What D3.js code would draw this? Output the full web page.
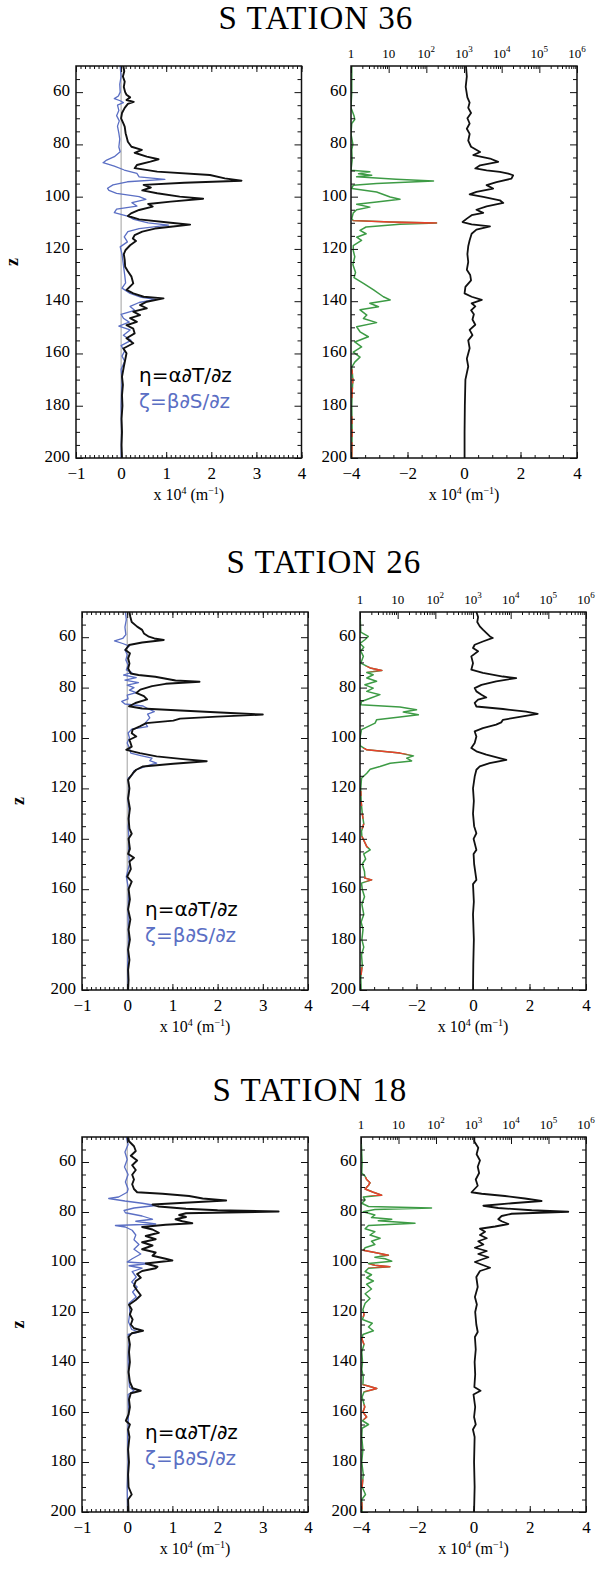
<!DOCTYPE html>
<html>
<head>
<meta charset="utf-8">
<script src="https://cdn.jsdelivr.net/npm/d3@7"></script>
<style>
  body { margin: 0; background: #fff; }
  svg { display: block; }
</style>
</head>
<body>
<div id="chart"></div>
<script>
const width = 598;
const height = 1575;

// depth range shared by every panel
const zDomain = [50, 200];

// ---- station 36 : [z, value] ----
const s36Eta = [[50,0.05],[52,0.07],[54,0.04],[56,0.08],[58,0.06],[60,0.09],[61,0.12],[62,0.2],[63,0.12],[63.7,0.28],[64.5,0.15],[66,0.08],[68,0.02],[70,0.0],[72,0.05],[73.2,0.08],[75.7,0.1],[77,0.12],[79,0.15],[80.9,0.23],[82.1,0.46],[83.2,0.3],[84.7,0.57],[85.7,0.83],[86.6,0.65],[87.9,0.35],[89.1,0.3],[90.4,0.8],[91.7,1.97],[93,2.3],[93.9,2.67],[94.7,1.4],[95.5,0.5],[96.5,0.66],[97.6,0.47],[98.7,0.8],[100,1.3],[100.8,1.82],[101.9,1.1],[102.8,0.6],[103.8,0.7],[105.1,0.4],[106.4,0.22],[107.4,0.15],[108.7,0.4],[110,1.1],[110.7,1.53],[111.5,1.1],[112.2,0.75],[113.4,0.47],[114.7,0.3],[116,0.26],[117,0.33],[118.6,0.2],[120.4,0.1],[122,0.06],[124.2,0.08],[126.8,0.09],[128.5,0.15],[130.6,0.23],[133.2,0.27],[135.7,0.12],[137,0.27],[138.3,0.5],[138.9,0.94],[140.2,0.57],[141.5,0.42],[142.7,0.57],[144,0.27],[145.3,0.42],[146.5,0.2],[147.9,0.35],[149.2,0.12],[150.5,0.27],[152.3,0.3],[154.2,0.12],[156.1,0.27],[158.1,0.05],[159.9,0.12],[162.5,0.09],[165.1,0.06],[168.9,0.02],[172,0.04],[176,0.02],[180,0.03],[185,0.01],[190,0.02],[195,0.01],[200,0.02]];
const s36Zeta = [[50,-0.02],[54,0.0],[57,-0.03],[60,-0.02],[61.5,-0.06],[62.5,-0.15],[63.3,-0.02],[64,0.05],[65,-0.08],[67,-0.05],[69,-0.1],[71,-0.04],[73,-0.08],[75.7,-0.05],[78,-0.03],[81,-0.05],[82.8,-0.02],[84.7,-0.15],[86,-0.32],[87,-0.4],[88.3,-0.15],[89.8,0.07],[91.1,0.35],[92.4,0.4],[93.4,0.97],[94.3,0.14],[95.5,-0.18],[96.8,-0.3],[97.6,-0.27],[98.7,-0.1],[100,0.4],[101,0.55],[102.3,0.24],[103.6,0.35],[104.8,-0.1],[106.1,-0.15],[107.4,0.14],[108.7,0.28],[110,0.6],[110.9,1.05],[112.2,0.4],[113.4,0.15],[115.4,0.07],[117.3,0.14],[119.2,-0.02],[122,0.02],[126,0.05],[130,0.08],[133,0.1],[135,0.02],[137,0.2],[138.5,0.45],[139.3,0.77],[140.5,0.4],[142,0.2],[143.5,0.3],[145,0.0],[146.5,0.05],[148,0.18],[149.5,-0.05],[151,0.2],[153,0.05],[155,0.22],[157,0.0],[159,0.08],[161,0.02],[163,0.08],[166,0.0],[170,0.02],[180,0.0],[190,0.01],[200,0.0]];
const s36Sum = [[50,0.07],[54,0.1],[58,0.06],[62,0.12],[64,0.2],[66,0.15],[68,0.25],[70,0.12],[72,0.2],[74,0.1],[76,0.2],[78.6,0.15],[80.9,0.25],[82.9,0.57],[84.1,0.33],[85.4,0.92],[86.7,1.21],[88,0.57],[89.2,0.4],[89.9,0.8],[90.5,1.27],[91.2,1.57],[91.8,1.74],[93.1,1.68],[94.4,1.15],[95.6,0.8],[96.9,1.03],[98.2,0.44],[99.1,0.2],[100.1,0.68],[101.4,1.27],[102.4,1.39],[103.7,0.8],[105,0.44],[106.2,0.68],[107.1,0.27],[108.4,0.1],[109.7,-0.05],[110.6,0.27],[111.4,0.92],[112.6,0.44],[114.2,0.27],[116.7,0.2],[119,0.15],[122,0.12],[125,0.15],[128,0.1],[130,0.22],[132,0.25],[134.5,0.05],[137,0.02],[138.3,0.27],[139.5,0.63],[140.8,0.27],[142,0.4],[143.5,0.25],[145,0.35],[147,0.3],[149,0.4],[151,0.2],[153,0.3],[155,0.15],[158,0.2],[162,0.1],[165,0.15],[170,0.05],[180,0.03],[190,0.02],[200,0.02]];
// log10 of the ratio read on the top axis
const s36LogR = [[50,0.02],[60,0.02],[66,0.0],[69,0.08],[70.5,0.1],[72,0.02],[76,0.0],[80,0.05],[82,0.02],[86,0.03],[89.9,0.0],[90.5,0.5],[91.2,0.2],[91.8,0.55],[92.4,0.15],[93.3,1.2],[94,2.19],[95,0.68],[95.6,0.06],[96.9,0.02],[98.2,0.68],[100.1,1.04],[101,1.3],[102,0.68],[102.9,0.15],[104,0.5],[105,0.15],[106.2,0.06],[108.4,0.02],[109.1,0.06],[109.7,1.04],[110.1,2.27],[110.6,1.3],[111.6,0.4],[112.9,0.24],[114.2,0.4],[115.5,0.15],[116.7,0.28],[118.7,0.06],[120.6,0.06],[123,0.1],[126,0.05],[129,0.12],[131,0.08],[133.2,0.33],[135.7,0.6],[138.3,0.86],[139.5,1.04],[140.8,0.5],[142.1,0.73],[143.3,0.24],[145.3,0.42],[146.6,0.33],[148.2,0.68],[149.8,0.15],[151.7,0.24],[153.6,0.46],[155.6,0.1],[157.5,0.28],[159.5,0.06],[161.4,0.24],[163.3,0.1],[165.2,0.02],[170,0.05],[175,0.03],[180,0.02],[190,0.03],[200,0.02]];
const s36Red = [[109.0,110.4],[166,168],[169.5,171.5],[173,177],[184,187],[189,192],[194,200]];

// ---- station 26 ----
const s26Eta = [[50,0.05],[52,0.07],[54,0.1],[55.8,0.22],[57.1,0.33],[58.5,0.37],[59.8,0.48],[60.5,0.6],[61.1,0.81],[62.1,0.33],[63.1,0.04],[65.1,-0.04],[66.4,0.06],[68.4,0.02],[70.4,0.05],[72.4,0.02],[74.4,0.08],[75,0.25],[75.7,0.62],[76.3,0.8],[77.2,1.07],[77.7,1.6],[78.5,0.85],[79.4,0.55],[80.8,0.29],[82.1,0.2],[83.4,0.37],[84.7,0.44],[86.1,0.18],[87.4,0.04],[88.3,0.33],[89,1.07],[89.8,1.95],[90.7,3.0],[91.5,1.99],[92.3,1.17],[93.1,1.02],[94.1,0.42],[95.4,0.28],[96.7,0.12],[98.1,0.1],[99.4,0.2],[100.7,0.05],[103.4,0.1],[104.7,-0.02],[106,0.28],[107.3,0.65],[108.4,1.24],[109.2,1.76],[110.2,1.02],[111.3,0.35],[112.6,0.2],[113.9,0.13],[116.6,0.02],[120,0.05],[124,0.02],[128,0.06],[132,0.03],[136,0.05],[138,0.1],[140,0.03],[144,0.06],[146,0.02],[147.5,0.15],[149,0.05],[152,0.08],[155,0.0],[157,0.1],[160,0.03],[164,0.06],[168,0.02],[172,0.07],[176,0.03],[180,0.06],[184,0.02],[188,0.05],[192,0.02],[196,0.03],[200,0.02]];
const s26Zeta = [[50,-0.04],[53,-0.02],[56,-0.05],[59,-0.03],[60.5,-0.1],[61.5,-0.28],[62.5,-0.1],[63.5,0.05],[65,-0.05],[67,0.0],[69,-0.03],[71,0.02],[73,-0.02],[74,0.1],[75,-0.08],[76,0.2],[77,-0.05],[78,0.25],[79,0.0],[80,0.15],[81,0.05],[82,0.2],[83,0.0],[84.5,0.02],[85.5,-0.12],[86.5,-0.05],[87.3,0.35],[88.3,0.45],[89.5,0.6],[90.5,0.45],[92,0.5],[94,0.4],[95.5,0.45],[96.5,0.1],[98,0.02],[100,0.05],[102,0.0],[104,0.05],[106,0.08],[107,0.3],[108,0.55],[109,0.5],[110,0.65],[111,0.45],[112,0.3],[113,0.15],[114.5,0.12],[116,0.02],[120,0.04],[125,0.02],[130,0.05],[135,0.02],[140,0.04],[145,0.03],[150,0.05],[155,-0.02],[160,0.03],[170,0.02],[180,0.03],[190,0.01],[200,0.02]];
const s26Sum = [[50,0.12],[52,0.18],[54,0.15],[55.7,0.24],[57,0.35],[58.3,0.47],[59.7,0.6],[60.3,0.7],[61.7,0.35],[63,0.06],[64.3,0.0],[65.6,0.18],[67.6,-0.06],[70.3,0.0],[72.9,-0.06],[74.2,0.35],[75.6,1.06],[76.2,1.53],[77.5,0.82],[78.9,0.3],[80.2,0.06],[81.5,0.12],[82.8,0.3],[83.9,0.47],[84.8,0.18],[86.1,0.06],[87.5,0.12],[88.5,1.06],[89.5,1.88],[90.4,2.29],[91.4,1.76],[92.8,1.06],[93.8,1.0],[94.7,0.82],[96.1,0.35],[97.4,0.06],[99.4,0.12],[102,0.06],[104,-0.06],[105.3,0.12],[106.6,0.47],[108,0.94],[108.7,1.18],[110,0.59],[111.3,0.24],[112.6,0.12],[115.3,0.06],[120,0.0],[125,0.03],[130,0.0],[135,0.04],[137.8,0.12],[140,0.02],[144.4,0.12],[146,0.02],[150,0.04],[156.3,0.12],[158,0.0],[165,0.03],[170,0.0],[180,0.03],[190,0.01],[200,0.0]];
const s26LogR = [[50,0.0],[58,0.02],[59.7,0.22],[61,0.13],[62.5,0.0],[64,0.1],[65.5,0.02],[67.6,0.09],[70.3,0.02],[72.2,0.27],[73.2,0.58],[74,0.18],[74.9,0.35],[76.2,0.18],[77.5,0.44],[78.9,0.13],[80.2,0.35],[81.5,0.18],[82.8,0.53],[84.2,0.27],[85.5,0.04],[86.8,0.02],[87.7,1.06],[88.8,1.5],[89.7,1.15],[90.8,1.55],[91.7,1.06],[92.8,0.44],[94.1,0.4],[95.4,0.22],[96.7,0.04],[100,0.0],[103,0.0],[104.7,0.18],[106,1.06],[107.1,1.42],[108,1.24],[109.1,1.37],[110,0.8],[111.3,0.53],[112.4,0.27],[114,0.18],[116,0.04],[120,0.02],[125,0.03],[130,0.06],[134,0.1],[137,0.04],[139,0.05],[143.1,0.18],[144.4,0.27],[146,0.1],[148,0.15],[150,0.06],[153,0.12],[155.6,0.13],[156.3,0.31],[157.6,0.04],[160,0.06],[163,0.12],[166,0.05],[170,0.1],[173,0.03],[176,0.08],[180,0.05],[183,0.1],[186,0.04],[190,0.06],[195,0.02],[200,0.03]];
const s26Red = [[71.5,73.6],[104,106.5],[121,123],[125,127],[130,132],[134,136],[139,143.6],[155,156.9],[191,194]];

// ---- station 18 ----
const s18Eta = [[50,0.02],[51.7,0.04],[53.7,0.15],[55.6,0.19],[57.5,0.08],[59.4,0.22],[61.3,0.11],[63.2,0.19],[65.1,0.11],[67,0.15],[68.9,0.11],[70.8,0.15],[72.1,0.22],[72.7,0.78],[73.6,1.37],[74.6,1.67],[75.4,2.19],[76.2,1.37],[77,0.56],[77.8,0.7],[78.7,1.3],[79.3,2.0],[79.8,3.35],[80.5,1.3],[81.2,1.15],[82,1.3],[82.9,1.07],[83.7,1.22],[84.5,1.44],[85.1,0.85],[86,0.33],[87,0.56],[88.3,0.7],[89.6,0.41],[90.9,0.63],[92.1,0.33],[93.4,0.56],[94.9,0.33],[96.2,0.63],[97.5,0.56],[98.7,0.85],[99.4,1.0],[100.6,0.41],[101.9,0.67],[102.5,0.63],[103.6,0.33],[104.8,0.22],[106.3,0.3],[107.6,0.19],[109.5,0.15],[111.4,0.22],[113.3,0.3],[115.2,0.19],[117.1,0.04],[119,0.1],[121,0.06],[123,0.12],[125,0.08],[126.5,0.15],[127.5,0.35],[128.5,0.1],[130,0.03],[133,0.06],[136,0.04],[140,0.06],[144,0.03],[148,0.06],[150.5,0.12],[151.5,0.3],[152.5,0.08],[155,0.04],[158,0.06],[161,0.03],[163.5,-0.03],[165,0.06],[167,0.02],[170,0.05],[175,0.02],[180,0.04],[185,0.02],[190,0.03],[193,0.1],[195,0.02],[200,0.03]];
const s18Zeta = [[50,-0.02],[53,0.02],[56,-0.05],[59,0.0],[62,-0.06],[65,0.02],[68,-0.04],[70.8,0.02],[72.1,0.0],[74,-0.19],[74.6,-0.41],[75.6,-0.05],[76.5,0.33],[77.4,0.63],[78.4,0.15],[79.4,-0.07],[80.3,-0.04],[81.6,0.33],[82.9,0.56],[83.7,0.19],[84.8,0.63],[85.4,-0.26],[86,-0.04],[87.3,0.11],[89.2,0.19],[91.1,0.15],[93,0.26],[94.9,0.15],[96.8,0.3],[98.7,0.11],[100,0.0],[100.6,0.48],[101.5,0.04],[102.5,0.33],[103.8,0.11],[106,0.2],[108,0.1],[110,0.22],[112,0.12],[114,0.2],[116.5,0.04],[120,0.06],[124,0.03],[127,0.1],[128,0.25],[129,0.02],[132,0.04],[138,0.02],[145,0.03],[150,0.05],[151.5,0.15],[153,0.02],[160,0.03],[170,0.01],[180,0.02],[190,0.0],[200,0.01]];
const s18Sum = [[50,0.03],[51.8,0.03],[54.3,0.17],[56.9,0.11],[59.4,0.23],[61.9,0.15],[64.4,0.2],[67,0.08],[69.5,0.15],[72.1,-0.07],[72.7,0.29],[73.6,1.12],[74.6,1.83],[75.6,2.42],[76.5,1.36],[77.5,0.35],[78.4,0.88],[79.3,2.07],[79.9,3.37],[80.7,1.36],[81.6,1.0],[82.9,0.88],[83.7,1.0],[84.8,1.24],[85.8,0.77],[86.7,0.23],[87.9,0.41],[89.2,0.23],[90.5,0.47],[91.7,0.17],[93,0.35],[94.3,0.05],[95.6,0.47],[96.8,0.17],[98.1,0.53],[99,0.29],[100,0.05],[101.3,0.35],[102.3,0.59],[103.6,0.23],[106,0.1],[110,0.15],[114,0.05],[117,0.12],[120,0.06],[125,0.1],[128,0.15],[130,0.05],[135,0.08],[140,0.04],[145,0.06],[150,0.03],[151.5,0.25],[153,0.0],[158,0.06],[162,0.02],[165,0.08],[167,-0.02],[170,0.04],[180,0.02],[190,0.04],[200,0.02]];
const s18LogR = [[50,0.0],[60,0.03],[64.4,0.02],[65.7,0.11],[67,0.15],[68.3,0.24],[69.3,0.2],[70.8,0.11],[72.1,0.33],[73.3,0.55],[74,0.06],[75.2,0.11],[76.5,0.02],[77.8,0.2],[78.4,1.88],[79,0.37],[79.9,0.06],[81.2,0.37],[82.2,0.28],[82.9,0.82],[83.5,0.46],[84.5,1.44],[85.4,0.2],[86.7,0.11],[87.9,0.37],[89.2,0.24],[90.5,0.51],[91.7,0.28],[93,0.37],[94.3,0.11],[95.3,0.06],[96.2,0.37],[97.3,0.73],[98.1,0.37],[98.7,0.64],[99.7,0.82],[100.6,0.2],[101.3,0.37],[101.9,0.77],[102.5,0.2],[103.8,0.11],[105.1,0.28],[106.3,0.15],[107.6,0.33],[108.9,0.15],[110.8,0.28],[112.7,0.11],[114.6,0.24],[116.5,0.11],[119,0.05],[121,0.08],[123,0.04],[124.5,0.3],[126,0.2],[127.5,0.33],[129,0.05],[131,0.03],[133,0.08],[136,0.02],[140,0.04],[143,0.02],[146,0.06],[149,0.05],[150.6,0.42],[152,0.08],[154,0.03],[158,0.1],[160,0.05],[162,0.15],[163.5,0.04],[165,0.2],[166.5,0.03],[170,0.02],[175,0.05],[180,0.02],[185,0.06],[190,0.03],[193,0.12],[195,0.02],[200,0.03]];
const s18Red = [[66,73.6],[95,97.5],[100.9,102.3],[120,122],[130,133],[149,151.8],[157,163],[187,190],[196,199]];

// tick values / labels
const leftXTicks = [-1, 0, 1, 2, 3, 4];
const rightXTicks = [-4, -2, 0, 2, 4];
const zTicks = [60, 80, 100, 120, 140, 160, 180, 200];
const logTicks = [1, 10, 100, 1e3, 1e4, 1e5, 1e6];

const stations = [
  { title: "S TATION 36", eta: s36Eta, zeta: s36Zeta, sum: s36Sum, logR: s36LogR, red: s36Red,
    top: 66, bottom: 458, left: [76, 301.5], right: [351, 577], tx: 316, ty: 29 },
  { title: "S TATION 26", eta: s26Eta, zeta: s26Zeta, sum: s26Sum, logR: s26LogR, red: s26Red,
    top: 612, bottom: 990, left: [82, 308], right: [360, 586], tx: 324, ty: 573 },
  { title: "S TATION 18", eta: s18Eta, zeta: s18Zeta, sum: s18Sum, logR: s18LogR, red: s18Red,
    top: 1137, bottom: 1512, left: [82, 308], right: [361, 586], tx: 310, ty: 1101 }
];

const serif = "'Liberation Serif', 'Times New Roman', serif";
const black = "#111";
const blue = "#5b6fc4";
const green = "#3d9b45";
const red = "#e8412c";

const svg = d3.select("#chart").append("svg")
  .attr("width", width)
  .attr("height", height)
  .style("background", "#fff");

// frame with inward ticks on all four sides
function frame(g, x, y, opt) {
  const [x0, x1] = x.range();
  const [y0, y1] = y.range();
  const minorZ = d3.range(55, 200, 5).filter(v => v % 20 !== 0);

  const sides = [
    [d3.axisLeft, x0, true], [d3.axisRight, x1, false]
  ];
  sides.forEach(([ax, pos, lab]) => {
    g.append("g").attr("transform", `translate(${pos},0)`)
      .call(ax(y).tickValues(minorZ).tickSize(-4).tickFormat(""));
    const major = g.append("g").attr("transform", `translate(${pos},0)`)
      .call(ax(y).tickValues(zTicks).tickSize(-7).tickPadding(opt.yPad)
        .tickFormat(lab ? d3.format("d") : ""));
    major.selectAll("text").attr("font-family", serif).attr("font-size", 17).attr("dy", "0.2em");
  });

  // bottom axis
  g.append("g").attr("transform", `translate(0,${y1})`)
    .call(d3.axisBottom(x).tickValues(opt.minorX).tickSize(-3).tickFormat(""));
  const bx = g.append("g").attr("transform", `translate(0,${y1})`)
    .call(d3.axisBottom(x).tickValues(opt.majorX).tickSize(-6).tickPadding(9).tickFormat(d3.format("d")));
  bx.selectAll("text").attr("font-family", serif).attr("font-size", 17);

  // top axis
  if (opt.logX) {
    const lx = opt.logX;
    const minorLog = [];
    logTicks.slice(0, -1).forEach(t => { for (let k = 2; k < 10; k++) minorLog.push(t * k); });
    g.append("g").attr("transform", `translate(0,${y0})`)
      .call(d3.axisTop(lx).tickValues(minorLog).tickSize(-3).tickFormat(""));
    g.append("g").attr("transform", `translate(0,${y0})`)
      .call(d3.axisTop(lx).tickValues(logTicks).tickSize(-7).tickFormat(""));
    const lab = g.append("g").selectAll("text").data(logTicks).join("text")
      .attr("x", d => lx(d))
      .attr("y", y0 - 8)
      .attr("text-anchor", "middle")
      .attr("font-family", serif)
      .attr("font-size", 13)
      .attr("fill", "#000");
    lab.each(function(d) {
      const e = Math.round(Math.log10(d));
      const t = d3.select(this);
      if (e === 0) t.text("1");
      else if (e === 1) t.text("10");
      else {
        t.append("tspan").text("10");
        t.append("tspan").attr("dy", -6).attr("font-size", 9).text(e);
      }
    });
  } else {
    g.append("g").attr("transform", `translate(0,${y0})`)
      .call(d3.axisTop(x).tickValues(opt.minorX).tickSize(-3).tickFormat(""));
    g.append("g").attr("transform", `translate(0,${y0})`)
      .call(d3.axisTop(x).tickValues(opt.majorX).tickSize(-6).tickFormat(""));
  }

  g.selectAll(".domain").remove();
  g.selectAll(".tick line").attr("stroke", black).attr("stroke-width", 1);

  g.append("rect")
    .attr("x", x0).attr("y", y0)
    .attr("width", x1 - x0).attr("height", y1 - y0)
    .attr("fill", "none").attr("stroke", black).attr("stroke-width", 1.5);

  // x axis title: x 10^4 (m^-1)
  const xt = g.append("text")
    .attr("x", (x0 + x1) / 2).attr("y", y1 + 42)
    .attr("text-anchor", "middle")
    .attr("font-family", serif).attr("font-size", 16);
  xt.append("tspan").text("x 10");
  xt.append("tspan").attr("dy", -6).attr("font-size", 10).text("4");
  xt.append("tspan").attr("dy", 6).text(" (m");
  xt.append("tspan").attr("dy", -6).attr("font-size", 10).text("\u22121");
  xt.append("tspan").attr("dy", 6).text(")");
}

stations.forEach((st, i) => {
  const g = svg.append("g");
  const y = d3.scaleLinear().domain(zDomain).range([st.top, st.bottom]);
  const xl = d3.scaleLinear().domain([-1, 4]).range(st.left);
  const xr = d3.scaleLinear().domain([-4, 4]).range(st.right);
  const xlog = d3.scaleLog().domain([1, 1e6]).range(st.right);

  // title
  g.append("text")
    .attr("x", st.tx).attr("y", st.ty)
    .attr("text-anchor", "middle")
    .attr("font-family", serif)
    .attr("font-size", 33)
    .attr("letter-spacing", 1)
    .attr("fill", "#000")
    .text(st.title);

  // y label
  g.append("text")
    .attr("transform", `translate(${st.left[0] - 58},${(st.top + st.bottom) / 2}) rotate(-90)`)
    .attr("text-anchor", "middle")
    .attr("font-family", serif)
    .attr("font-size", 18)
    .attr("font-weight", "bold")
    .text("z");

  // ---- left panel ----
  const lp = g.append("g");
  const clipL = "clipL" + i;
  lp.append("clipPath").attr("id", clipL).append("rect")
    .attr("x", st.left[0]).attr("y", st.top)
    .attr("width", st.left[1] - st.left[0]).attr("height", st.bottom - st.top);

  lp.append("line")
    .attr("x1", xl(0)).attr("x2", xl(0))
    .attr("y1", y(zDomain[0])).attr("y2", y(zDomain[1]))
    .attr("stroke", "#a0a0a0").attr("stroke-width", 1);

  const lineL = d3.line().x(d => xl(d[1])).y(d => y(d[0]));
  lp.append("path").datum(st.zeta)
    .attr("clip-path", `url(#${clipL})`)
    .attr("d", lineL).attr("fill", "none")
    .attr("stroke", blue).attr("stroke-width", 1.3).attr("stroke-linejoin", "round");
  lp.append("path").datum(st.eta)
    .attr("clip-path", `url(#${clipL})`)
    .attr("d", lineL).attr("fill", "none")
    .attr("stroke", black).attr("stroke-width", 1.9).attr("stroke-linejoin", "round");

  frame(lp, xl, y, {
    yPad: 6,
    minorX: d3.range(-10, 41).map(v => v / 10),
    majorX: leftXTicks
  });

  // legend
  const lx0 = st.left[0] + 63;
  const ly0 = st.top + (st.bottom - st.top) * 0.805;
  lp.append("text").attr("x", lx0).attr("y", ly0)
    .attr("font-family", "'DejaVu Sans', sans-serif").attr("font-size", 20)
    .attr("fill", "#000").text("\u03b7=\u03b1\u2202T/\u2202z");
  lp.append("text").attr("x", lx0).attr("y", ly0 + 26)
    .attr("font-family", "'DejaVu Sans', sans-serif").attr("font-size", 20)
    .attr("fill", blue).text("\u03b6=\u03b2\u2202S/\u2202z");

  // ---- right panel ----
  const rp = g.append("g");
  const clipR = "clipR" + i;
  rp.append("clipPath").attr("id", clipR).append("rect")
    .attr("x", st.right[0]).attr("y", st.top)
    .attr("width", st.right[1] - st.right[0]).attr("height", st.bottom - st.top);

  const clipRed = "clipRed" + i;
  rp.append("clipPath").attr("id", clipRed).selectAll("rect").data(st.red).join("rect")
    .attr("x", st.right[0] - 2).attr("width", st.right[1] - st.right[0] + 4)
    .attr("y", d => y(d[0])).attr("height", d => y(d[1]) - y(d[0]));

  const lineLog = d3.line().x(d => xlog(Math.pow(10, d[1]))).y(d => y(d[0]));
  rp.append("path").datum(st.logR)
    .attr("clip-path", `url(#${clipR})`)
    .attr("d", lineLog).attr("fill", "none")
    .attr("stroke", green).attr("stroke-width", 1.5).attr("stroke-linejoin", "round");
  rp.append("g").attr("clip-path", `url(#${clipRed})`)
    .append("path").datum(st.logR)
    .attr("d", lineLog).attr("fill", "none")
    .attr("stroke", red).attr("stroke-width", 1.5).attr("stroke-linejoin", "round");

  const lineR = d3.line().x(d => xr(d[1])).y(d => y(d[0]));
  rp.append("path").datum(st.sum)
    .attr("clip-path", `url(#${clipR})`)
    .attr("d", lineR).attr("fill", "none")
    .attr("stroke", black).attr("stroke-width", 1.8).attr("stroke-linejoin", "round");

  frame(rp, xr, y, {
    yPad: 4,
    minorX: d3.range(-8, 9).map(v => v / 2),
    majorX: rightXTicks,
    logX: xlog
  });
});
</script>
</body>
</html>
